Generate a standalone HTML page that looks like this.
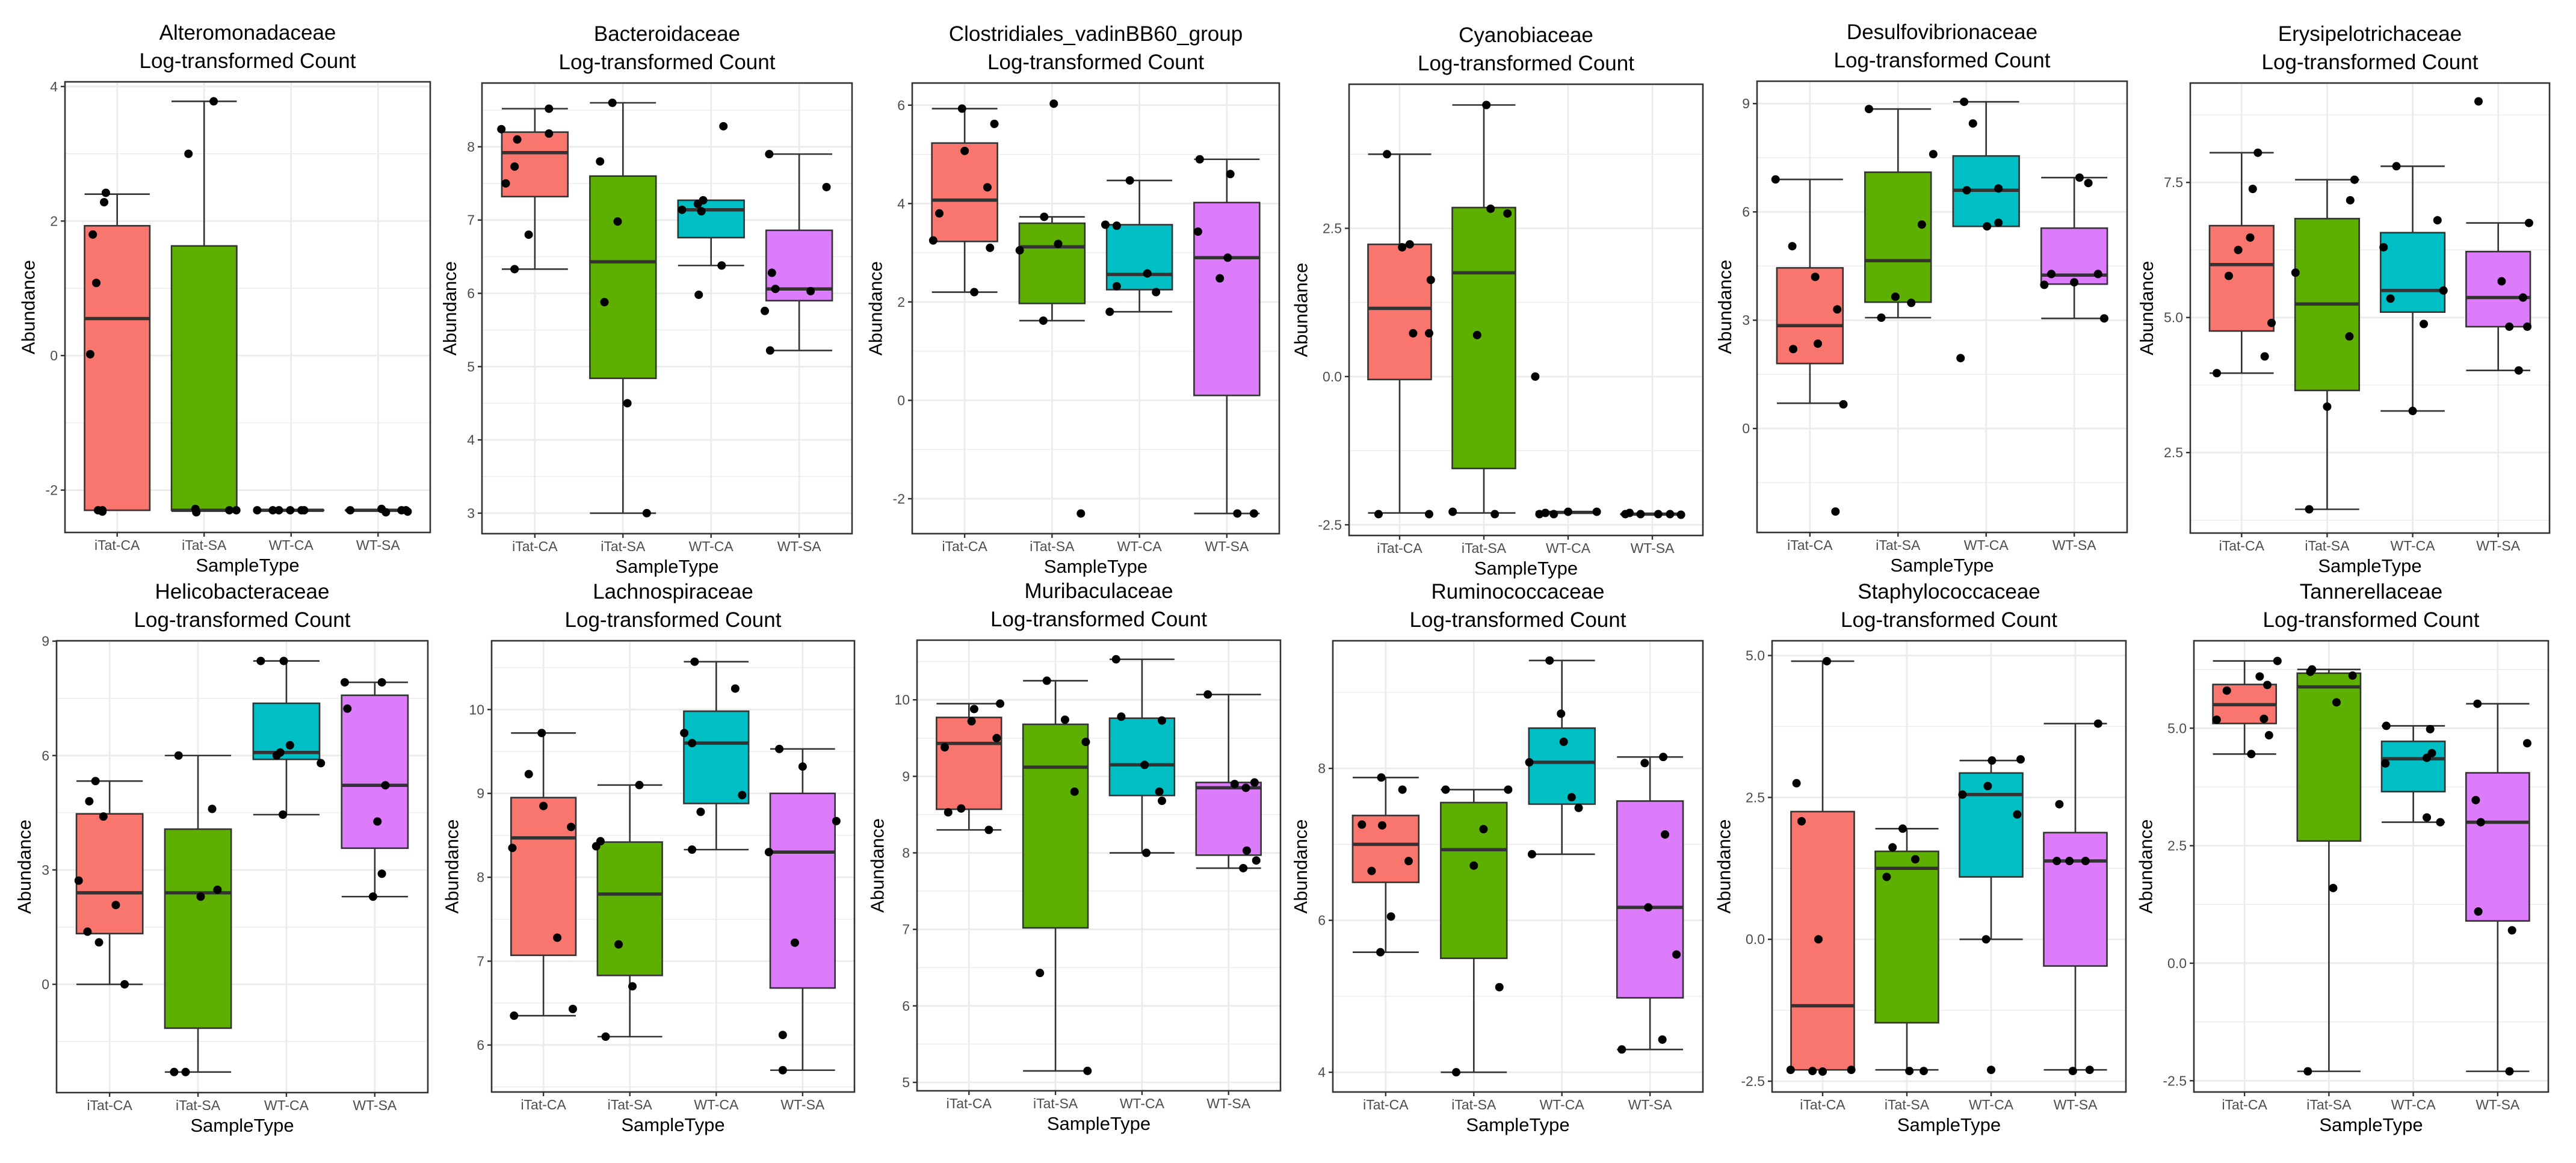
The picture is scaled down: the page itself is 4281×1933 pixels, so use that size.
<!DOCTYPE html>
<html><head><meta charset="utf-8"><style>
html,body{margin:0;padding:0;background:#fff;}
svg{display:block;font-family:"Liberation Sans",Arial,sans-serif;}
</style></head><body>
<svg id="fig" width="4281" height="1933" viewBox="0 0 4281 1933" xmlns="http://www.w3.org/2000/svg">
<rect x="0" y="0" width="4281" height="1933" fill="#fff"/>
</svg>
<script>
const panelNames = ["Alteromonadaceae","Bacteroidaceae","Clostridiales_vadinBB60_group","Cyanobiaceae","Desulfovibrionaceae","Erysipelotrichaceae","Helicobacteraceae","Lachnospiraceae","Muribaculaceae","Ruminococcaceae","Staphylococcaceae","Tannerellaceae"];
const categories = ["iTat-CA","iTat-SA","WT-CA","WT-SA"];
const fillColors = ["#F8766D","#5EB000","#00BFC4","#DC7CFB"];
const yDomains = [[-2.63,4.07],[2.72,8.87],[-2.71,6.45],[-2.68,4.93],[-2.88,9.62],[1.01,9.34],[-2.84,9.01],[5.44,10.82],[4.89,10.78],[3.74,9.68],[-2.69,5.26],[-2.74,6.86]];
const yTickValues = [[-2,0,2,4],[3,4,5,6,7,8],[-2,0,2,4,6],[-2.5,0,2.5],[0,3,6,9],[2.5,5,7.5],[0,3,6,9],[6,7,8,9,10],[5,6,7,8,9,10],[4,6,8],[-2.5,0,2.5,5],[-2.5,0,2.5,5]];
const yTickLabels = [["-2","0","2","4"],["3","4","5","6","7","8"],["-2","0","2","4","6"],["-2.5","0.0","2.5"],["0","3","6","9"],["2.5","5.0","7.5"],["0","3","6","9"],["6","7","8","9","10"],["5","6","7","8","9","10"],["4","6","8"],["-2.5","0.0","2.5","5.0"],["-2.5","0.0","2.5","5.0"]];
// box stats per group: [lowerWhisker, q1, median, q3, upperWhisker]
const boxStats = [
 [[-2.3,-2.3,0.55,1.93,2.4],[-2.3,-2.3,-2.3,1.63,3.78],[-2.3,-2.3,-2.3,-2.3,-2.3],[-2.3,-2.3,-2.3,-2.3,-2.3]],
 [[6.33,7.32,7.92,8.2,8.52],[3.0,4.84,6.43,7.6,8.6],[6.38,6.76,7.14,7.27,7.27],[5.22,5.9,6.06,6.86,7.9]],
 [[2.2,3.23,4.07,5.23,5.93],[1.62,1.97,3.12,3.6,3.73],[1.8,2.25,2.56,3.57,4.47],[-2.3,0.1,2.9,4.02,4.9]],
 [[-2.3,-0.05,1.15,2.23,3.75],[-2.3,-1.55,1.75,2.85,4.58],[-2.3,-2.3,-2.29,-2.28,-2.28],[-2.32,-2.32,-2.32,-2.32,-2.32]],
 [[0.7,1.8,2.85,4.45,6.9],[3.07,3.5,4.65,7.1,8.85],[5.6,5.6,6.6,7.55,9.05],[3.05,4.0,4.25,5.55,6.95]],
 [[3.97,4.75,5.98,6.7,8.05],[1.45,3.65,5.25,6.83,7.55],[3.27,5.1,5.5,6.57,7.8],[4.02,4.83,5.37,6.22,6.75]],
 [[0,1.33,2.4,4.47,5.33],[-2.3,-1.15,2.4,4.07,6.0],[4.45,5.9,6.08,7.37,8.48],[2.3,3.57,5.22,7.58,7.92]],
 [[6.35,7.07,8.47,8.95,9.72],[6.1,6.83,7.8,8.42,9.1],[8.33,8.88,9.6,9.98,10.57],[5.7,6.68,8.3,9.0,9.53]],
 [[8.3,8.57,9.43,9.77,9.95],[5.15,7.02,9.12,9.68,10.25],[8.0,8.75,9.15,9.76,10.53],[7.8,7.97,8.85,8.92,10.07]],
 [[5.58,6.5,7.0,7.38,7.88],[4.0,5.5,6.93,7.55,7.72],[6.87,7.53,8.08,8.53,9.42],[4.3,4.98,6.17,7.57,8.15]],
 [[-2.3,-2.3,-1.17,2.25,4.9],[-2.3,-1.47,1.25,1.55,1.95],[0,1.1,2.55,2.93,3.15],[-2.3,-0.47,1.38,1.88,3.8]],
 [[4.45,5.1,5.5,5.93,6.43],[-2.3,2.6,5.88,6.17,6.25],[3.0,3.65,4.35,4.72,5.05],[-2.3,0.9,3.0,4.05,5.52]]
];
const pointValues = [
 [[2.42,2.28,1.8,1.08,0.02,-2.3,-2.3,-2.32],[3.78,3.0,-2.28,-2.33,-2.3,-2.3],[-2.3,-2.3,-2.3,-2.3,-2.3,-2.3],[-2.3,-2.28,-2.33,-2.3,-2.3,-2.32]],
 [[8.52,8.24,8.18,8.1,7.73,7.5,6.8,6.33],[8.6,7.8,6.98,5.88,4.5,3.0],[8.28,7.27,7.22,7.14,7.12,6.38,5.98],[7.9,7.45,6.28,6.06,6.03,5.76,5.22]],
 [[5.93,5.62,5.07,4.33,3.8,3.25,3.1,2.2],[6.03,3.73,3.18,3.05,1.62,-2.3],[4.47,3.57,3.55,2.58,2.32,2.2,1.8],[4.9,4.6,3.43,2.9,2.48,-2.3,-2.3]],
 [[3.75,2.23,2.18,1.63,0.73,0.73,-2.32,-2.32],[4.58,2.83,2.75,0.7,-2.28,-2.32],[0,-2.32,-2.3,-2.32,-2.28,-2.28],[-2.32,-2.3,-2.32,-2.32,-2.32,-2.33]],
 [[6.9,5.05,4.2,3.3,2.35,2.2,0.67,-2.3],[8.85,7.6,5.65,3.65,3.48,3.07],[9.05,8.45,6.65,6.6,5.7,5.6,1.95],[6.95,6.8,4.28,4.28,4.05,3.98,3.05]],
 [[8.05,7.38,6.48,6.25,5.77,4.9,4.28,3.97],[7.55,7.17,5.83,4.65,3.35,1.45],[7.8,6.8,6.3,5.5,5.35,4.88,3.27],[9.0,6.75,5.67,5.37,4.83,4.83,4.02]],
 [[5.33,4.8,4.4,2.72,2.08,1.38,1.1,0],[6.0,4.6,2.48,2.3,-2.3,-2.3],[8.48,8.48,6.27,6.08,6.0,5.8,4.45],[7.92,7.92,7.23,5.22,4.27,2.9,2.3]],
 [[9.72,9.23,8.85,8.6,8.35,7.28,6.43,6.35],[9.1,8.43,8.37,7.2,6.7,6.1],[10.57,10.25,9.72,9.6,8.98,8.78,8.33],[9.53,9.32,8.67,8.3,7.22,6.12,5.7]],
 [[9.95,9.88,9.72,9.5,9.38,8.58,8.53,8.3],[10.25,9.74,9.45,8.8,6.43,5.15],[10.53,9.78,9.73,9.15,8.8,8.68,8.0],[10.07,8.92,8.9,8.85,8.03,7.9,7.8]],
 [[7.88,7.72,7.26,7.25,6.78,6.65,6.05,5.58],[7.72,7.72,7.2,6.72,5.12,4.0],[9.42,8.72,8.35,8.08,7.62,7.48,6.87],[8.15,8.07,7.13,6.17,5.55,4.43,4.3]],
 [[4.9,2.75,2.08,0,-2.3,-2.32,-2.33,-2.3],[1.95,1.62,1.41,1.1,-2.32,-2.32],[3.15,3.17,2.7,2.55,2.2,0,-2.3],[3.8,2.38,1.38,1.38,1.38,-2.32,-2.3]],
 [[6.43,6.1,5.92,5.8,5.2,5.18,4.85,4.45],[6.25,6.2,6.12,5.55,1.6,-2.3],[5.05,4.98,4.47,4.37,4.25,3.1,3.0],[5.52,4.68,3.47,3.0,1.1,0.7,-2.3]]
];
// horizontal jitter in category units
const pointJitter = [
 [[-0.13,-0.15,-0.28,-0.24,-0.31,-0.22,-0.17,-0.17],[0.11,-0.18,-0.1,-0.09,0.29,0.37],[-0.39,-0.21,-0.14,-0.01,0.12,0.15],[-0.32,0.04,0.09,0.27,0.32,0.34]],
 [[0.16,-0.38,0.16,-0.2,-0.23,-0.33,-0.07,-0.23],[-0.12,-0.26,-0.06,-0.21,0.05,0.27],[0.14,-0.09,-0.15,-0.33,-0.11,0.12,-0.14],[-0.34,0.31,-0.31,-0.27,0.13,-0.39,-0.33]],
 [[-0.03,0.34,0,0.26,-0.29,-0.36,0.29,0.11],[0.02,-0.09,0.07,-0.37,-0.1,0.33],[-0.11,-0.39,-0.26,0.09,-0.26,0.19,-0.34],[-0.31,0.04,-0.33,0.01,-0.08,0.12,0.31]],
 [[-0.15,0.12,0.03,0.37,0.16,0.35,-0.25,0.35],[0.03,0.08,0.28,-0.08,-0.37,0.13],[-0.39,-0.34,-0.27,-0.17,0,0.34],[-0.32,-0.27,-0.14,0.07,0.21,0.34]],
 [[-0.39,-0.2,0.06,0.31,0.09,-0.19,0.38,0.29],[-0.33,0.4,0.27,-0.03,0.15,-0.19],[-0.25,-0.15,0.14,-0.22,0.14,0.01,-0.29],[0.06,0.16,-0.26,0.27,0,-0.34,0.34]],
 [[0.19,0.13,0.1,-0.04,-0.15,0.35,0.27,-0.29],[0.32,0.27,-0.37,0.26,0,-0.21],[-0.19,0.29,-0.34,0.36,-0.26,0.13,0],[-0.23,0.36,0.04,0.29,0.13,0.34,0.24]],
 [[-0.16,-0.23,-0.07,-0.35,0.07,-0.25,-0.12,0.17],[-0.22,0.16,0.22,0.03,-0.27,-0.14],[-0.29,-0.03,0.04,-0.07,-0.11,0.39,-0.04],[-0.34,0.08,-0.31,0.12,0.03,0.08,-0.02]],
 [[-0.02,-0.17,0,0.32,-0.36,0.16,0.34,-0.34],[0.11,-0.34,-0.39,-0.13,0.03,-0.28],[-0.25,0.22,-0.37,-0.28,0.3,-0.18,-0.28],[-0.27,0,0.39,-0.39,-0.09,-0.23,-0.23]],
 [[0.36,0.06,0.03,0.32,-0.28,-0.09,-0.24,0.23],[-0.1,0.11,0.35,0.22,-0.18,0.37],[-0.3,-0.24,0.23,0.03,0.2,0.23,0.05],[-0.24,0.3,0.07,0.2,0.21,0.32,0.17]],
 [[-0.05,0.19,-0.27,-0.04,0.26,-0.16,0.06,-0.06],[-0.32,0.39,0.11,0,0.29,-0.2],[-0.14,-0.01,0.02,-0.37,0.11,0.19,-0.34],[0.15,-0.06,0.17,-0.02,0.3,0.14,-0.32]],
 [[0.05,-0.31,-0.25,-0.05,-0.38,-0.12,0,0.34],[-0.05,-0.17,0.1,-0.24,0.03,0.2],[0.01,0.35,-0.04,-0.34,0.31,-0.06,0],[0.27,-0.19,-0.22,-0.07,0.12,-0.03,0.17]],
 [[0.39,0.18,0.27,-0.21,0.23,-0.33,0.29,0.08],[-0.2,-0.22,0.28,0.09,0.05,-0.25],[-0.32,0.2,0.22,0.16,-0.33,0.16,0.32],[-0.24,0.35,-0.26,-0.2,-0.23,0.17,0.14]]
];

// layout (pixel rects of plot panels): left, top, right, bottom
const panelRects = [[108,136,715,885],[801,138,1416,887],[1516,138,2126,887],[2242,140,2830,890],[2920,135,3535,885],[3640,138,4237,886],
 [94,1065,711,1816],[817,1065,1420,1815],[1524,1064,2128,1813],[2215,1065,2830,1815],[2945,1065,3533,1815],[3646,1065,4235,1815]];

const NS = "http://www.w3.org/2000/svg";
const svg = document.getElementById("fig");
function mk(tag, attrs, parent) {
  const e = document.createElementNS(NS, tag);
  for (const k in attrs) e.setAttribute(k, attrs[k]);
  (parent || svg).appendChild(e);
  return e;
}
function slug(s){return s.toLowerCase().replace(/[^a-z0-9]+/g,'-');}

panelNames.forEach((name, p) => {
  const [L, T, R, B] = panelRects[p];
  const [d0, d1] = yDomains[p];
  const yScale = v => B - (v - d0) / (d1 - d0) * (B - T);
  const step = (R - L) / (categories.length - 1 + 1.2);
  const xScale = (i) => L + 0.6 * step + i * step;
  const bw = 0.75 * step;
  const g = mk("g", {});
  
  

  // background grid
  const grid = mk("g", {}, g);
  
  
  const tv = yTickValues[p];
  const tstep = tv[1] - tv[0];
  for (let v = tv[0] - tstep / 2; v <= d1; v += tstep) {
    if (v < d0) continue;
    const y = yScale(v);
    const ln = mk("line", {x1: L, x2: R, y1: y, y2: y, stroke: "#ebebeb", "stroke-width": 1.4}, grid);
    
    
  }
  tv.forEach(v => {
    const y = yScale(v);
    const ln = mk("line", {x1: L, x2: R, y1: y, y2: y, stroke: "#ebebeb", "stroke-width": 2.8}, grid);
    
    
  });
  categories.forEach((c, i) => {
    const x = xScale(i);
    const ln = mk("line", {x1: x, x2: x, y1: T, y2: B, stroke: "#ebebeb", "stroke-width": 2.8}, grid);
    
    
  });

  // boxes
  categories.forEach((c, i) => {
    const [lo, q1, md, q3, hi] = boxStats[p][i];
    const x = xScale(i);
    const bg = mk("g", {}, g);
    
    
    const st = {stroke: "#333333", "stroke-width": 2.6};
    mk("line", Object.assign({x1: x, x2: x, y1: yScale(hi), y2: yScale(q3)}, st), bg);
    mk("line", Object.assign({x1: x, x2: x, y1: yScale(q1), y2: yScale(lo)}, st), bg);
    mk("line", Object.assign({x1: x - bw/2, x2: x + bw/2, y1: yScale(hi), y2: yScale(hi)}, st), bg);
    mk("line", Object.assign({x1: x - bw/2, x2: x + bw/2, y1: yScale(lo), y2: yScale(lo)}, st), bg);
    const r = mk("rect", Object.assign({x: x - bw/2, y: yScale(q3), width: bw, height: Math.max(0.01, yScale(q1) - yScale(q3)), fill: fillColors[i]}, st), bg);
    
    
    const m = mk("line", {x1: x - bw/2, x2: x + bw/2, y1: yScale(md), y2: yScale(md), stroke: "#333333", "stroke-width": 5.5}, bg);
    
    
  });

  // points
  categories.forEach((c, i) => {
    pointValues[p][i].forEach((v, k) => {
      const cx = xScale(i + pointJitter[p][i][k]);
      const pt = mk("circle", {cx: cx, cy: yScale(v), r: 7, fill: "#000"}, g);
      
      
    });
  });

  // border
  const bd = mk("rect", {x: L, y: T, width: R - L, height: B - T, fill: "none", stroke: "#333333", "stroke-width": 2.6}, g);
  
  

  // y ticks
  let maxW = 0;
  tv.forEach((v, k) => {
    const y = yScale(v);
    mk("line", {x1: L - 7, x2: L, y1: y, y2: y, stroke: "#333333", "stroke-width": 2.4}, g);
    const t = mk("text", {x: L - 12, y: y + 8, "text-anchor": "end", "font-size": 23, fill: "#4d4d4d"}, g);
    
    
    t.textContent = yTickLabels[p][k];
    try { maxW = Math.max(maxW, t.getComputedTextLength()); } catch (e) { maxW = Math.max(maxW, 13 * yTickLabels[p][k].length); }
  });
  // x ticks
  categories.forEach((c, i) => {
    const x = xScale(i);
    mk("line", {x1: x, x2: x, y1: B, y2: B + 7, stroke: "#333333", "stroke-width": 2.4}, g);
    const t = mk("text", {x: x, y: B + 29, "text-anchor": "middle", "font-size": 23, fill: "#4d4d4d"}, g);
    
    
    t.textContent = c;
  });
  const cx = (L + R) / 2;
  const xt = mk("text", {x: cx, y: B + 65, "text-anchor": "middle", "font-size": 31, fill: "#000"}, g);
  
  
  xt.textContent = "SampleType";
  const ax = L - 12 - maxW - 18;
  const cy = (T + B) / 2;
  const yt = mk("text", {x: ax, y: cy, "text-anchor": "middle", "font-size": 31, fill: "#000", transform: `rotate(-90 ${ax} ${cy})`}, g);
  
  
  yt.textContent = "Abundance";
  const t1 = mk("text", {x: cx, y: T - 70, "text-anchor": "middle", "font-size": 35, fill: "#000"}, g);
  
  
  t1.textContent = name;
  const t2 = mk("text", {x: cx, y: T - 23, "text-anchor": "middle", "font-size": 35, fill: "#000"}, g);
  
  
  t2.textContent = "Log-transformed Count";
});
</script>
</body></html>
